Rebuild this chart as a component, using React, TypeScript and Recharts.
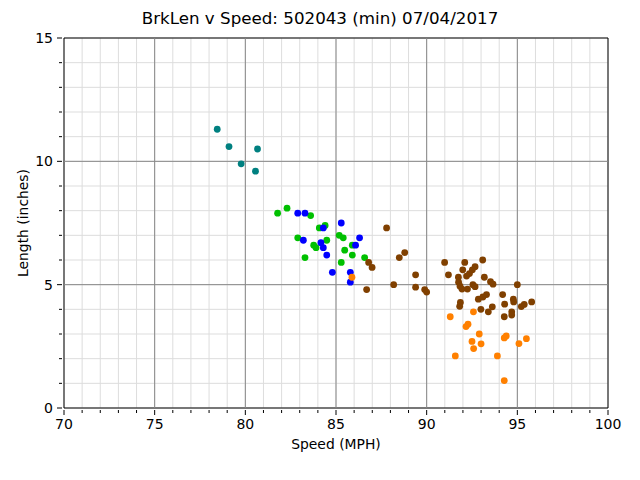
import { ScatterChart, Scatter, XAxis, YAxis, CartesianGrid, ReferenceLine, ReferenceArea } from "recharts"

// [speed (MPH), length (inches)] per group
const tealPoints = [
  [78.45, 11.3], [79.1, 10.6], [79.77, 9.9], [80.67, 10.5], [80.56, 9.6],
]
const greenPoints = [
  [81.78, 7.9], [82.3, 8.1], [83.6, 7.8], [84.08, 7.3], [84.4, 7.4], [82.89, 6.9],
  [83.77, 6.6], [83.9, 6.5], [84.49, 6.8], [83.29, 6.1], [85.18, 7.0], [85.4, 6.9],
  [85.48, 6.4], [85.9, 6.6], [85.9, 6.2], [85.29, 5.9], [86.58, 6.1],
]
const bluePoints = [
  [82.89, 7.9], [83.29, 7.9], [85.29, 7.5], [84.3, 7.3], [83.2, 6.8], [84.17, 6.7],
  [84.3, 6.5], [84.49, 6.2], [86.3, 6.9], [86.08, 6.6], [84.8, 5.5], [85.79, 5.5],
  [85.79, 5.1],
]
const brownPoints = [
  [87.79, 7.3], [86.8, 5.9], [86.99, 5.7], [86.69, 4.8], [88.49, 6.1], [88.79, 6.3],
  [88.18, 5.0], [89.39, 5.4], [89.39, 4.9], [89.89, 4.8], [90.0, 4.7], [90.99, 5.9],
  [91.2, 5.4], [92.1, 5.9], [91.99, 5.6], [91.75, 5.3], [93.09, 6.0], [92.67, 5.73],
  [92.52, 5.6], [92.36, 5.45], [92.2, 5.35], [91.76, 5.1], [91.84, 4.94], [91.95, 4.82],
  [92.25, 4.82], [92.55, 5.0], [92.67, 4.92], [93.18, 5.3], [93.52, 5.12], [93.66, 5.02],
  [95.0, 5.0], [92.85, 4.41], [93.1, 4.5], [93.3, 4.6], [94.19, 4.6], [94.78, 4.41],
  [94.8, 4.3], [91.86, 4.28], [91.82, 4.12], [92.99, 4.0], [93.4, 3.9], [93.62, 4.1],
  [94.3, 4.21], [94.28, 3.7], [94.69, 3.9], [94.69, 3.77], [95.22, 4.11], [95.38, 4.2],
  [95.79, 4.3],
]
const orangePoints = [
  [85.88, 5.3], [91.3, 3.7], [92.58, 3.9], [92.17, 3.3], [92.28, 3.4], [92.9, 3.0],
  [92.5, 2.7], [93.0, 2.6], [92.59, 2.41], [91.58, 2.11], [93.9, 2.11], [94.28, 2.84],
  [94.39, 2.92], [95.09, 2.61], [95.5, 2.81], [94.28, 1.11],
]

const xTicks = Array.from({ length: 31 }, (_, i) => 70 + i)
const yTicks = Array.from({ length: 16 }, (_, i) => i)
const xMajor = [75, 80, 85, 90, 95]
const yMajor = [5, 10]

const toRows = (pts: number[][]) => pts.map(([speed, length]) => ({ speed, length }))

const series = [
  { name: "teal", color: "#008080", points: tealPoints },
  { name: "green", color: "#00c000", points: greenPoints },
  { name: "blue", color: "#0000ff", points: bluePoints },
  { name: "brown", color: "#804000", points: brownPoints },
  { name: "orange", color: "#ff8000", points: orangePoints },
]

const font = "'DejaVu Sans', sans-serif"

const XTick = (props: any) => {
  const { x, y, payload } = props
  const major = payload.value % 5 === 0
  return (
    <g>
      <line x1={x} x2={x} y1={y} y2={y + (major ? 5 : 3)} stroke="#000" strokeWidth={1} />
      {major && (
        <text x={x} y={y + 19} textAnchor="middle" fontSize={14} fontFamily={font} fill="#000">
          {payload.value}
        </text>
      )}
    </g>
  )
}

const YTick = (props: any) => {
  const { x, y, payload } = props
  const major = payload.value % 5 === 0
  return (
    <g>
      <line x1={x} x2={x - (major ? 5 : 3)} y1={y} y2={y} stroke="#000" strokeWidth={1} />
      {major && (
        <text x={x - 9} y={y + 5} textAnchor="end" fontSize={14} fontFamily={font} fill="#000">
          {payload.value}
        </text>
      )}
    </g>
  )
}

const Dot = (color: string) => (props: any) => (
  <circle cx={props.cx} cy={props.cy} r={3.4} fill={color} />
)

export default function App() {
  return (
    <div style={{ position: "absolute", left: 0, top: 0, width: 640, height: 480, background: "#fff", fontFamily: font }}>
      <div style={{ position: "absolute", left: 0, top: 8, width: 640, textAlign: "center", fontSize: 16.7, color: "#000" }}>
        BrkLen v Speed: 502043 (min) 07/04/2017
      </div>
      <ScatterChart width={640} height={480} margin={{ top: 38, right: 32, left: 0, bottom: 0 }}>
        <CartesianGrid stroke="#dddddd" strokeWidth={1} />
        <XAxis
          type="number"
          dataKey="speed"
          domain={[70, 100]}
          ticks={xTicks}
          interval={0}
          height={72}
          tickSize={0}
          tickLine={false}
          axisLine={false}
          tick={<XTick />}
          allowDataOverflow
        />
        <YAxis
          type="number"
          dataKey="length"
          domain={[0, 15]}
          ticks={yTicks}
          interval={0}
          width={64}
          tickSize={0}
          tickLine={false}
          axisLine={false}
          tick={<YTick />}
          allowDataOverflow
        />
        {xMajor.map((v) => (
          <ReferenceLine key={`x${v}`} x={v} stroke="#888888" strokeWidth={1} />
        ))}
        {yMajor.map((v) => (
          <ReferenceLine key={`y${v}`} y={v} stroke="#888888" strokeWidth={1} />
        ))}
        <ReferenceArea x1={70} x2={100} y1={0} y2={15} fill="none" stroke="#000" strokeWidth={1} fillOpacity={0} />
        {series.map((s) => (
          <Scatter
            key={s.name}
            name={s.name}
            data={toRows(s.points)}
            fill={s.color}
            shape={Dot(s.color)}
            isAnimationActive={false}
          />
        ))}
      </ScatterChart>
      <div style={{ position: "absolute", left: 64, width: 544, top: 436, textAlign: "center", fontSize: 13.9, color: "#000" }}>
        Speed (MPH)
      </div>
      <div
        style={{
          position: "absolute",
          left: 23,
          top: 223,
          transform: "translate(-50%, -50%) rotate(-90deg)",
          whiteSpace: "nowrap",
          fontSize: 13.9,
          color: "#000",
        }}
      >
        Length (inches)
      </div>
    </div>
  )
}
